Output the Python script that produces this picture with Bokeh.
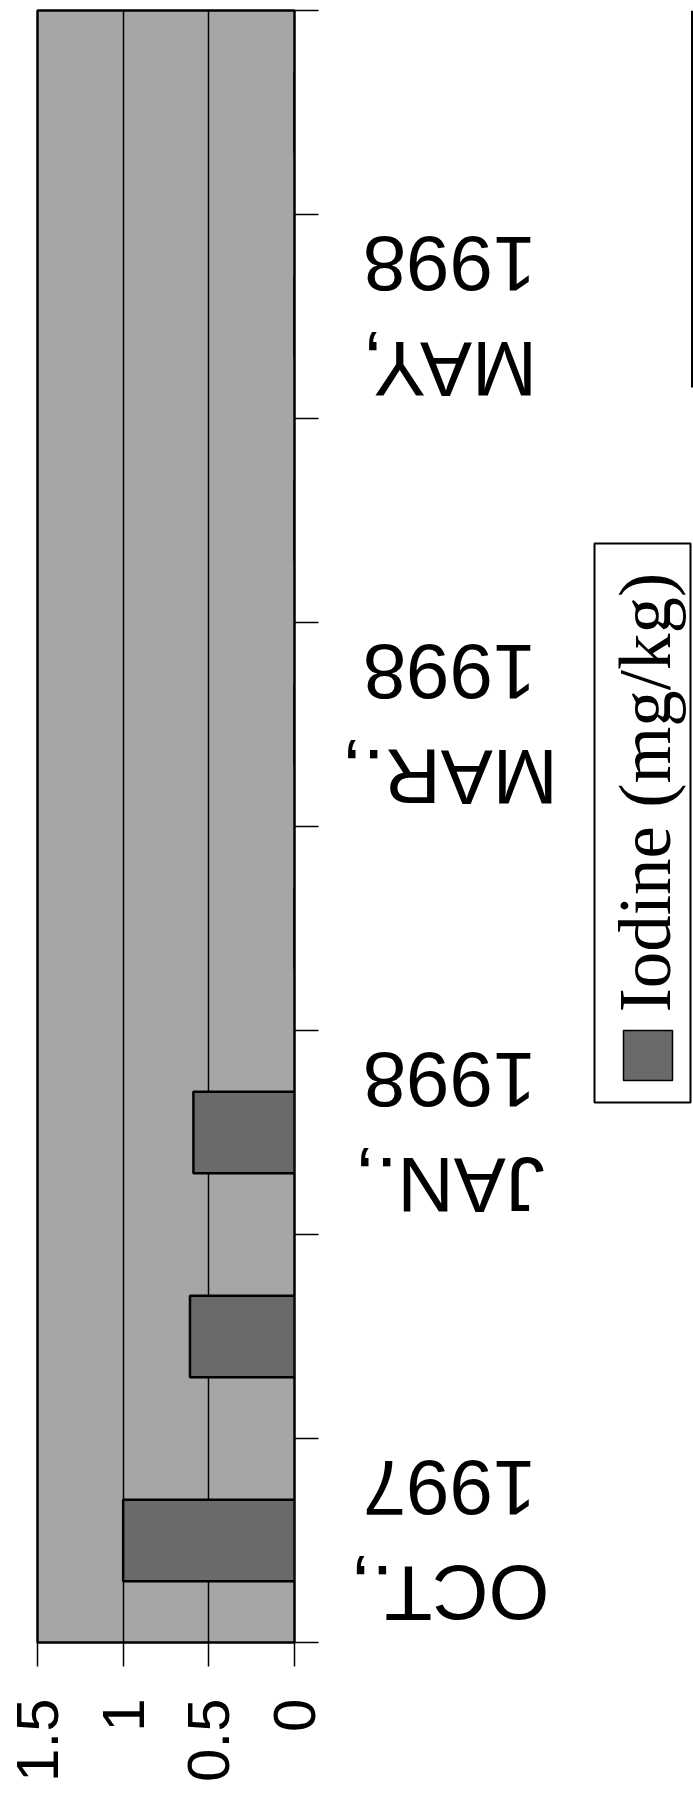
import math
from bokeh.plotting import figure
from bokeh.models import Range1d, FixedTicker, ColumnDataSource
from bokeh.layouts import row
from bokeh.embed import file_html
from bokeh.resources import INLINE
from bokeh.core.properties import value

# ---- data ----
categories = ["OCT.,\n1997", "", "JAN.,\n1998", "", "MAR.,\n1998", "", "MAY,\n1998", ""]
iodine = [1.0, 0.61, 0.59, 0, 0, 0, 0, 0]
value_ticks = [0, 0.5, 1, 1.5]
value_tick_labels = ["0", "0.5", "1", "1.5"]
legend_label = "Iodine (mg/kg)"

idx = list(range(len(categories)))
src = ColumnDataSource(dict(y=idx, v=iodine, lab=categories))

BG = "#a6a6a6"
BAR = "#6a6a6a"
TOP, BOTTOM = 10, 169

p = figure(width=330, height=1811, output_backend="svg", toolbar_location=None,
           x_range=Range1d(1.5, 0), y_range=Range1d(-0.5, len(categories) - 0.5),
           y_axis_location="right", x_axis_location="below",
           min_border_left=37, min_border_right=36, min_border_top=TOP, min_border_bottom=BOTTOM)
p.background_fill_color = BG
p.border_fill_color = "white"
p.outline_line_color = "black"
p.outline_line_width = 2.5

p.hbar(y="y", right="v", left=0, height=0.40, source=src,
       fill_color=BAR, line_color="black", line_width=2.5)

# value axis (bottom)
xa = p.xaxis[0]
xa.ticker = FixedTicker(ticks=value_ticks, minor_ticks=[])
xa.major_label_overrides = {t: l for t, l in zip(value_ticks, value_tick_labels)}
xa.major_label_orientation = math.pi / 2
xa.major_label_text_font = "Liberation Sans"
xa.major_label_text_font_size = "60px"
xa.major_label_text_color = "black"
xa.major_tick_out = 24
xa.major_tick_in = 0
xa.major_tick_line_width = 1.5
xa.major_tick_line_color = "black"
xa.axis_line_color = None
xa.major_label_standoff = 32

# category axis (right): ticks between categories only
ya = p.yaxis[0]
ya.ticker = FixedTicker(ticks=[], minor_ticks=[i - 0.5 for i in range(len(categories) + 1)])
ya.major_label_text_font_size = "0px"
ya.major_tick_out = 0
ya.major_tick_in = 0
ya.minor_tick_out = 24
ya.minor_tick_in = 0
ya.minor_tick_line_width = 1.5
ya.minor_tick_line_color = "black"
ya.axis_line_color = None
ya.major_label_standoff = 0

p.xgrid.ticker = FixedTicker(ticks=[0.5, 1.0])
p.xgrid.grid_line_color = "black"
p.xgrid.grid_line_width = 1.5
p.ygrid.grid_line_color = None

# ---- category labels panel (shares the category scale) ----
lf = figure(width=255, height=1811, output_backend="svg", toolbar_location=None,
            x_range=Range1d(330, 585), y_range=p.y_range,
            x_axis_location=None, y_axis_location=None,
            min_border_left=0, min_border_right=0, min_border_top=TOP, min_border_bottom=BOTTOM)
lf.outline_line_color = None
lf.background_fill_color = "white"
lf.border_fill_color = "white"
lf.grid.grid_line_color = None
lf.text(x=449, y="y", text="lab", source=src, angle=math.pi,
        text_align="center", text_baseline="middle", text_line_height=1.2,
        text_font=value("Liberation Sans"), text_font_size="78px", text_color="black")

# ---- legend panel ----
lg = figure(width=108, height=1811, output_backend="svg", toolbar_location=None,
            x_range=Range1d(585, 693), y_range=Range1d(1811 - BOTTOM, TOP),
            x_axis_location=None, y_axis_location=None,
            min_border_left=0, min_border_right=0, min_border_top=TOP, min_border_bottom=BOTTOM)
lg.outline_line_color = None
lg.background_fill_color = "white"
lg.border_fill_color = "white"
lg.grid.grid_line_color = None
lg.quad(left=[594], right=[690], top=[543], bottom=[1102],
        fill_color="white", line_color="black", line_width=2)
lg.quad(left=[623], right=[672], top=[1030], bottom=[1080],
        fill_color=BAR, line_color="black", line_width=1.5)
lg.text(x=[645], y=[1012], text=[legend_label], angle=math.pi / 2,
        text_align="left", text_baseline="middle",
        text_font=value("Liberation Serif"), text_font_size="73px", text_color="black")
lg.segment(x0=[692], y0=[TOP], x1=[692], y1=[387], line_color="black", line_width=3)

layout = row(p, lf, lg)
open("out.html", "w").write(file_html(layout, INLINE))
